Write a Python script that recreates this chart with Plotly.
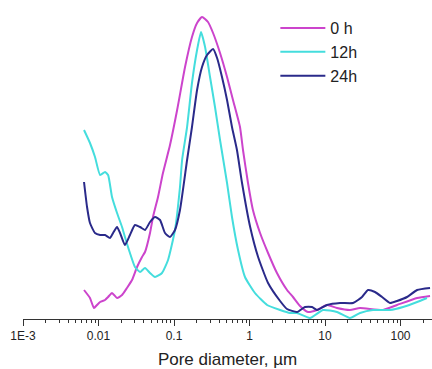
import plotly.graph_objects as go

# Pore diameter (µm) and intensity (arbitrary units)
d_0h = [0.00643, 0.00771, 0.00871, 0.00955, 0.0105, 0.0122, 0.0134, 0.0151, 0.0176, 0.0205,
        0.0238, 0.0278, 0.0324, 0.0377, 0.0413, 0.0481, 0.0527, 0.0614, 0.0714, 0.0885,
        0.110, 0.140, 0.173, 0.202, 0.235, 0.282, 0.329, 0.407, 0.504, 0.604,
        0.748, 0.820, 0.955, 1.11, 1.38, 1.76, 2.31, 3.14, 3.77, 4.67,
        5.96, 7.83, 10.6, 14.4, 21.4, 29.1, 58.6, 89.9, 166, 246]
v_0h = [29, 21, 11, 14, 17, 19, 22, 26, 21, 24,
        31, 39, 52, 62, 67, 86, 102, 122, 146, 174,
        209, 252, 282, 296, 302, 297, 286, 266, 242, 219,
        192, 169, 136, 109, 86, 66, 46, 29, 22, 13,
        7, 9, 14, 11, 9, 11, 9, 14, 21, 23]

d_12h = [0.00643, 0.00771, 0.00899, 0.0105, 0.0122, 0.0134, 0.0151, 0.0176, 0.0205, 0.0224,
         0.0261, 0.0304, 0.0355, 0.0413, 0.0481, 0.0560, 0.0693, 0.0834, 0.103, 0.120,
         0.128, 0.149, 0.173, 0.202, 0.228, 0.258, 0.300, 0.349, 0.407, 0.504,
         0.586, 0.705, 0.871, 1.18, 1.71, 2.54, 3.44, 4.26, 6.32, 9.42,
         14.4, 21.4, 29.1, 43.2, 72.6, 108, 166, 224]
v_12h = [189, 176, 162, 144, 147, 144, 122, 106, 92, 82,
         66, 52, 47, 51, 46, 42, 46, 59, 89, 132,
         159, 192, 236, 269, 287, 272, 242, 212, 179, 136,
         102, 69, 42, 26, 14, 9, 6, 6, 1, 9,
         7, 1, 6, 9, 9, 12, 17, 21]

d_24h = [0.00643, 0.00705, 0.00771, 0.00899, 0.0105, 0.0122, 0.0142, 0.0156, 0.0176, 0.0193,
         0.0224, 0.0261, 0.0304, 0.0355, 0.0413, 0.0481, 0.0560, 0.0653, 0.0760, 0.0885,
         0.103, 0.120, 0.149, 0.173, 0.202, 0.235, 0.274, 0.329, 0.372, 0.432,
         0.504, 0.586, 0.682, 0.796, 1.02, 1.30, 1.76, 2.54, 3.14, 4.26,
         5.43, 6.73, 7.83, 10.6, 15.8, 23.5, 30.9, 37.1, 45.9, 56.9,
         72.6, 89.9, 122, 166, 246]
v_24h = [137, 112, 96, 86, 84, 84, 81, 86, 92, 86,
         74, 84, 94, 92, 89, 97, 102, 99, 86, 82,
         89, 109, 159, 192, 229, 252, 264, 270, 261, 242,
         219, 192, 169, 136, 92, 62, 36, 18, 10, 7,
         12, 12, 9, 14, 16, 16, 22, 29, 27, 22,
         16, 18, 22, 29, 31]

series_names = ["0 h", "12h", "24h"]
series_colors = ["#CC44CC", "#44DDDD", "#2A2A8A"]

tick_vals = [1e-3, 1e-2, 1e-1, 1, 10, 100]
tick_text = ["1E-3", "0.01", "0.1", "1", "10", "100"]

fig = go.Figure()
for name, xs, ys, col in zip(series_names, [d_0h, d_12h, d_24h], [v_0h, v_12h, v_24h], series_colors):
    fig.add_trace(go.Scatter(x=xs, y=ys, mode="lines", name=name,
                             line=dict(color=col, width=2, shape="spline", smoothing=0.5)))

minor_vals = [m * 10 ** e for e in range(-3, 3) for m in range(2, 10)]

fig.update_layout(
    width=432, height=369,
    margin=dict(l=23, r=0, t=0, b=50),
    paper_bgcolor="white", plot_bgcolor="white",
    font=dict(family="Liberation Sans, Arial, sans-serif", color="#222222"),
    showlegend=True,
    legend=dict(x=0.617, y=0.965, xanchor="left", yanchor="top",
                font=dict(size=16, color="#222222"), bgcolor="rgba(0,0,0,0)",
                itemwidth=45, tracegroupgap=0),
    xaxis=dict(type="log", range=[-3, 2.417], showgrid=False, zeroline=False,
               automargin=False,
               showline=True, linecolor="#333333", linewidth=1,
               ticks="outside", ticklen=6, tickcolor="#333333",
               tickvals=tick_vals, ticktext=tick_text, tickfont=dict(size=12),
               minor=dict(ticks="outside", ticklen=3, tickcolor="#333333", tickvals=minor_vals),
               title=dict(text="Pore diameter, µm", font=dict(size=17), standoff=10)),
    yaxis=dict(range=[0, 319], visible=False, showgrid=False, zeroline=False,
               automargin=False),
)

fig.write_html("out.html", config={"displayModeBar": False},
               post_script="document.body.style.margin='0';")
